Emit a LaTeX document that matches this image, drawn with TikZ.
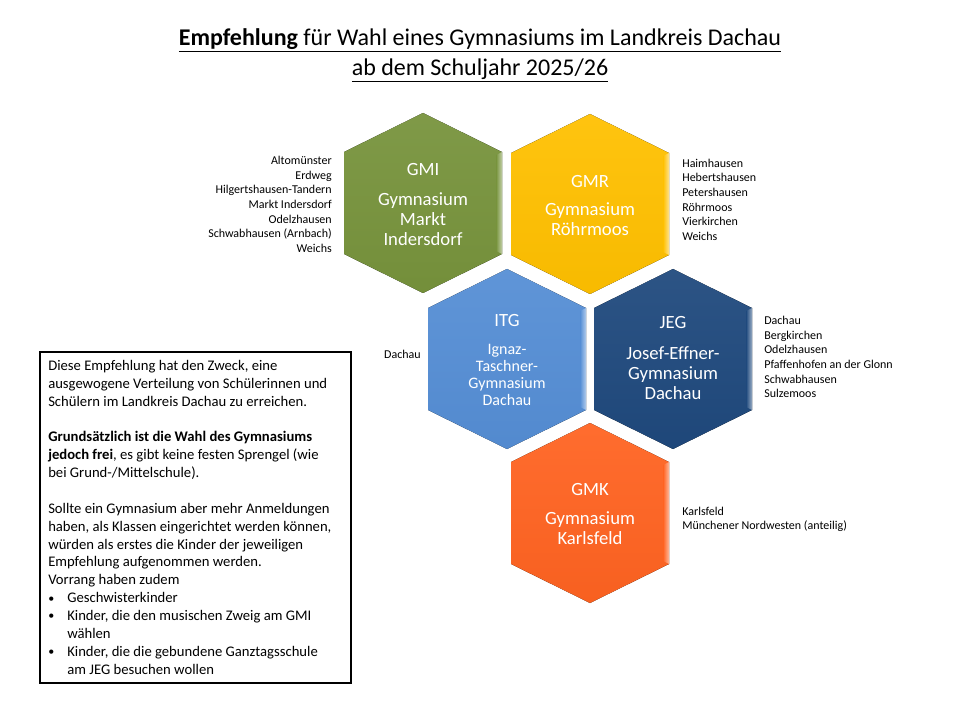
\documentclass[tikz,border=0pt]{standalone}
\usepackage{fontspec}
\setmainfont{Carlito}
\usetikzlibrary{calc}
\definecolor{cgmi}{RGB}{119,147,60}
\definecolor{cgmr}{RGB}{255,192,0}
\definecolor{citg}{RGB}{85,142,213}
\definecolor{cjeg}{RGB}{31,73,125}
\definecolor{cgmk}{RGB}{255,99,33}
\newcommand{\hexshape}[3]{%
  \fill[top color=#3!94!white, bottom color=#3!97!black] (#1,#2-90) -- (#1+79,#2-51) -- (#1+79,#2+51) -- (#1,#2+90) -- (#1-79,#2+51) -- (#1-79,#2-51) -- cycle;
  \shade[left color=#3, right color=#3!45!white] (#1+73,#2-48) -- (#1+79,#2-51) -- (#1+79,#2+51) -- (#1+73,#2+48) -- cycle;
}
\newcommand{\bul}{\makebox[14.25pt][l]{\raisebox{0.5pt}{\fontsize{9}{9}\selectfont•}}}
\begin{document}
\begin{tikzpicture}[x=0.75pt,y=-0.75pt,
  hextitle/.style={text=white, align=center, inner sep=0, font=\fontsize{14}{15}\selectfont},
  hexbody/.style={text=white, align=center, inner sep=0, font=\fontsize{14}{15}\selectfont},
  hexsmall/.style={text=white, align=center, inner sep=0, font=\fontsize{12}{12.75}\selectfont},
  listR/.style={align=right, anchor=north east, inner sep=0, font=\fontsize{9}{11}\selectfont},
  listL/.style={align=left, anchor=north west, inner sep=0, font=\fontsize{9}{11}\selectfont},
]
\useasboundingbox[fill=white] (0,0) rectangle (960,720);

% title
\node[align=center, inner sep=0, font=\fontsize{18}{22.5}\selectfont] (title) at (480,55)
  {\underline{\textbf{Empfehlung} für Wahl eines Gymnasiums im Landkreis Dachau}\\
   \underline{ab dem Schuljahr 2025/26}};

% hexagons
\hexshape{423}{203}{cgmi}
\hexshape{590}{204}{cgmr}
\hexshape{507}{359}{citg}
\hexshape{673}{359}{cjeg}
\hexshape{590}{513}{cgmk}

\node[hextitle] (gmiT) at (423,170) {GMI};
\node[hexbody] (gmiB) at (423,219) {Gymnasium\\Markt\\Indersdorf};
\node[hextitle] (gmrT) at (590,182) {GMR};
\node[hexbody] (gmrB) at (590,219) {Gymnasium\\Röhrmoos};
\node[hextitle] (itgT) at (507,321) {ITG};
\node[hexsmall] (itgB) at (507,375) {Ignaz-\\Taschner-\\Gymnasium\\Dachau};
\node[hextitle] (jegT) at (673,323) {JEG};
\node[hexbody] (jegB) at (673,373) {Josef-Effner-\\Gymnasium\\Dachau};
\node[hextitle] (gmkT) at (590,490) {GMK};
\node[hexbody] (gmkB) at (590,528) {Gymnasium\\Karlsfeld};

% lists
\node[listR] (gmiL) at (332,156) {Altomünster\\Erdweg\\Hilgertshausen-Tandern\\Markt Indersdorf\\Odelzhausen\\Schwabhausen (Arnbach)\\Weichs};
\node[listL] (gmrL) at (682,158.5) {Haimhausen\\Hebertshausen\\Petershausen\\Röhrmoos\\Vierkirchen\\Weichs};
\node[listR] (itgL) at (421,350) {Dachau};
\node[listL] (jegL) at (764,316) {Dachau\\Bergkirchen\\Odelzhausen\\Pfaffenhofen an der Glonn\\Schwabhausen\\Sulzemoos};
\node[listL] (gmkL) at (682,506.5) {Karlsfeld\\Münchener Nordwesten (anteilig)};

% info box
\draw[line width=1.5pt] (40,352) rectangle (351,683);
\node[anchor=north west, align=left, inner sep=0, font=\fontsize{11}{13.4}\selectfont] (info) at (48,360)
 {Diese Empfehlung hat den Zweck, eine\\
  ausgewogene Verteilung von Schülerinnen und\\
  Schülern im Landkreis Dachau zu erreichen.\\[13.4pt]
  \textbf{Grundsätzlich ist die Wahl des Gymnasiums}\\
  \textbf{jedoch frei}, es gibt keine festen Sprengel (wie\\
  bei Grund-/Mittelschule).\\[13.4pt]
  Sollte ein Gymnasium aber mehr Anmeldungen\\
  haben, als Klassen eingerichtet werden können,\\
  würden als erstes die Kinder der jeweiligen\\
  Empfehlung aufgenommen werden.\\
  Vorrang haben zudem\\
  \bul Geschwisterkinder\\
  \bul Kinder, die den musischen Zweig am GMI\\
  \hspace*{14.25pt}wählen\\
  \bul Kinder, die die gebundene Ganztagsschule\\
  \hspace*{14.25pt}am JEG besuchen wollen};
\end{tikzpicture}
\end{document}
